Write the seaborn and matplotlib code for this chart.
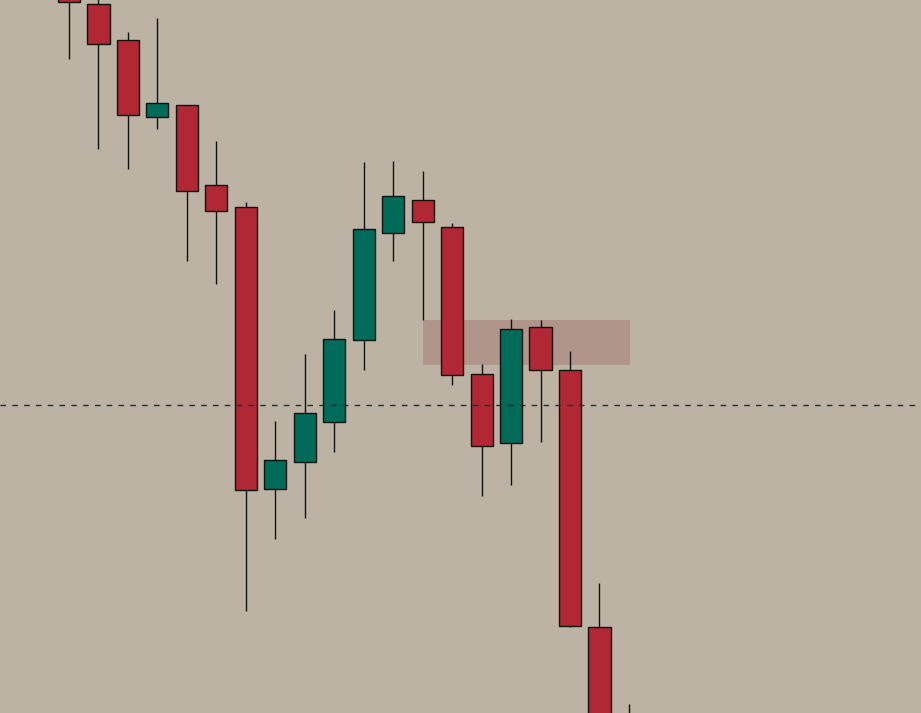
import matplotlib
matplotlib.use("Agg")
import matplotlib.pyplot as plt
import seaborn as sns
import numpy as np
import pandas as pd

# OHLC data (price units)
opens  = [1010, 996, 960, 883, 895, 815, 793, 511, 538, 578, 660, 767, 800, 773, 626, 557, 673, 630, 373, 280]
highs  = [1015, 1005, 968, 982, 895, 859, 798, 579, 646, 690, 838, 839, 829, 777, 636, 681, 680, 649, 417, 296]
lows   = [941, 851, 831, 871, 739, 716, 389, 461, 482, 548, 630, 739, 680, 615, 504, 515, 558, 373, 240, 240]
closes = [998, 956, 885, 897, 809, 789, 510, 540, 587, 661, 771, 804, 778, 625, 554, 671, 630, 374, 250, 250]

zone_start, zone_end = 12, 19.05
zone_low, zone_high = 635, 680
level = 595

df = pd.DataFrame({"open": opens, "high": highs, "low": lows, "close": closes})
df["idx"] = np.arange(len(df))

bg = "#BCB3A5"
up_col = "#006B58"
dn_col = "#B12733"

sns.set_theme(style="white", rc={"axes.facecolor": bg, "figure.facecolor": bg})

fig = plt.figure(figsize=(9.21, 7.13), dpi=100)
ax = fig.add_axes([0, 0, 1, 1])
ax.set_facecolor(bg)

colors = [up_col if c >= o else dn_col for o, c in zip(df["open"], df["close"])]

# zone
ax.fill_between([zone_start, zone_end], zone_low, zone_high, color="#B0968A", zorder=1, linewidth=0)

# wicks
ax.vlines(df["idx"], df["low"], df["high"], color="#111111", linewidth=1.0, zorder=2)

# bodies
bottoms = np.minimum(df["open"], df["close"])
heights = np.abs(df["close"] - df["open"])
ax.bar(df["idx"], heights, bottom=bottoms, width=0.75, color=colors,
       edgecolor="#111111", linewidth=1.0, zorder=3)

# level line
ax.axhline(level, color="#2a2a2a", linewidth=1.0, linestyle=(0, (4, 4.5)), zorder=4)

step = 29.47
ax.set_xlim(-69 / step, (921 - 69) / step)
ax.set_ylim(287, 1000)
ax.axis("off")

fig.savefig("out.png", dpi=100, facecolor=bg)
